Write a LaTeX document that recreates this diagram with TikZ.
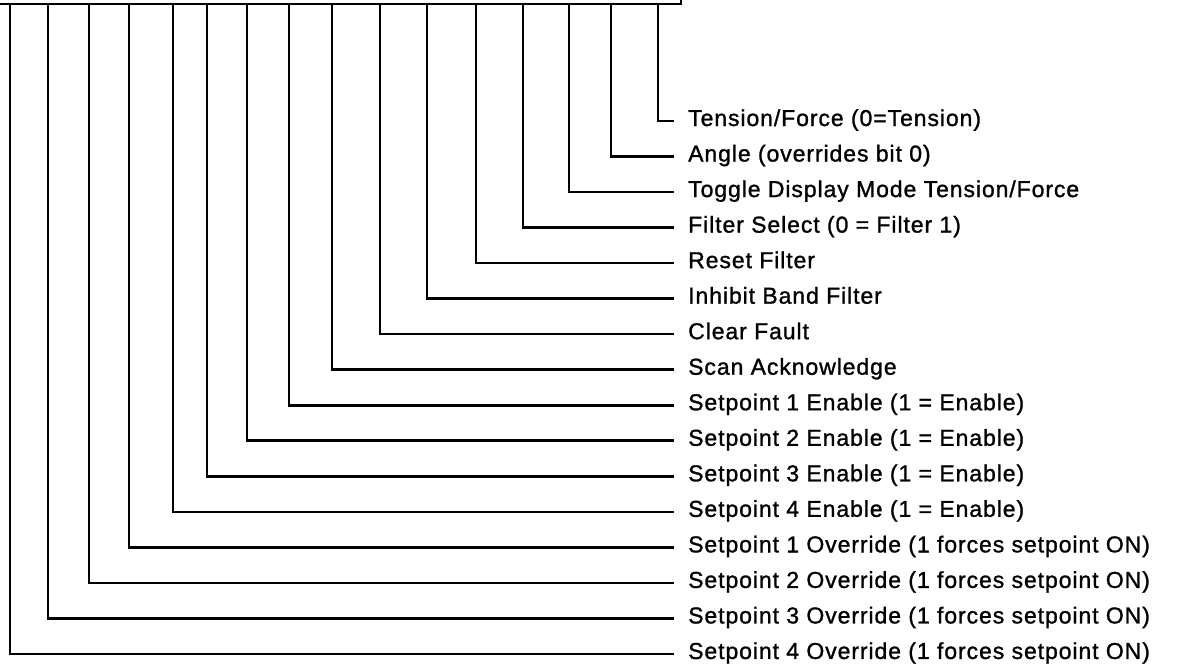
\documentclass[tikz,border=0pt]{standalone}
\usepackage{fontspec}
\setmainfont{Liberation Sans}[LetterSpace=4,FakeBold=1.2]
\begin{document}
\begin{tikzpicture}[x=1pt,y=-1pt,
  wire/.style={line width=2.6pt,line join=miter,line cap=rect},
  lbl/.style={anchor=base west,inner sep=0pt,font=\fontsize{23}{26}\selectfont}]
\useasboundingbox (0,0) rectangle (1178,667);
% register box (cut off at top)
\coordinate (boxbl) at (-10,4);
\coordinate (boxbr) at (681,4);
\coordinate (boxtr) at (681,-10);
\draw[wire] (boxbl) -- (boxbr) -- (boxtr);
% bit taps on the box bottom
\foreach \i/\xx in {0/658,1/611,2/569,3/523,4/476,5/427,6/380,7/332,8/289,9/247,10/207,11/173,12/129,13/89,14/48,15/10}{
  \coordinate (b\i) at (\xx,4);
  \coordinate (e\i) at (673,121+35.53*\i);
}
% labels
\node[lbl] (l0)  at (688,121+5+35.53*0)  {Tension/Force (0=Tension)};
\node[lbl] (l1)  at (688,121+5+35.53*1)  {Angle (overrides bit 0)};
\node[lbl] (l2)  at (688,121+5+35.53*2)  {Toggle Display Mode Tension/Force};
\node[lbl] (l3)  at (688,121+5+35.53*3)  {Filter Select (0 = Filter 1)};
\node[lbl] (l4)  at (688,121+5+35.53*4)  {Reset Filter};
\node[lbl] (l5)  at (688,121+5+35.53*5)  {Inhibit Band Filter};
\node[lbl] (l6)  at (688,121+5+35.53*6)  {Clear Fault};
\node[lbl] (l7)  at (688,121+5+35.53*7)  {Scan Acknowledge};
\node[lbl] (l8)  at (688,121+5+35.53*8)  {Setpoint 1 Enable (1 = Enable)};
\node[lbl] (l9)  at (688,121+5+35.53*9)  {Setpoint 2 Enable (1 = Enable)};
\node[lbl] (l10) at (688,121+5+35.53*10) {Setpoint 3 Enable (1 = Enable)};
\node[lbl] (l11) at (688,121+5+35.53*11) {Setpoint 4 Enable (1 = Enable)};
\node[lbl] (l12) at (688,121+5+35.53*12) {Setpoint 1 Override (1 forces setpoint ON)};
\node[lbl] (l13) at (688,121+5+35.53*13) {Setpoint 2 Override (1 forces setpoint ON)};
\node[lbl] (l14) at (688,121+5+35.53*14) {Setpoint 3 Override (1 forces setpoint ON)};
\node[lbl] (l15) at (688,121+5+35.53*15) {Setpoint 4 Override (1 forces setpoint ON)};
% connectors
\foreach \i in {0,...,15}{
  \draw[wire] (b\i) |- (e\i);
}
\end{tikzpicture}
\end{document}
